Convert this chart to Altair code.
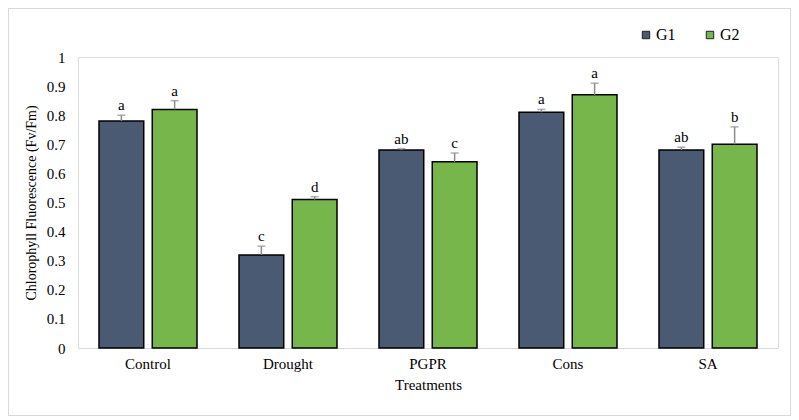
import altair as alt
import pandas as pd

treatments = ["Control", "Drought", "PGPR", "Cons", "SA"]
groups = ["G1", "G2"]
g1_values = [0.78, 0.32, 0.68, 0.81, 0.68]
g2_values = [0.82, 0.51, 0.64, 0.87, 0.70]
g1_err = [0.02, 0.03, 0.005, 0.01, 0.01]
g2_err = [0.03, 0.01, 0.03, 0.04, 0.06]
g1_letters = ["a", "c", "ab", "a", "ab"]
g2_letters = ["a", "d", "c", "a", "b"]
y_ticks = [0, 0.1, 0.2, 0.3, 0.4, 0.5, 0.6, 0.7, 0.8, 0.9, 1]

rows = []
for i, t in enumerate(treatments):
    rows.append({"Treatment": t, "Group": "G1", "value": g1_values[i],
                 "top": g1_values[i] + g1_err[i], "letter": g1_letters[i]})
    rows.append({"Treatment": t, "Group": "G2", "value": g2_values[i],
                 "top": g2_values[i] + g2_err[i], "letter": g2_letters[i]})
df = pd.DataFrame(rows)

W, H = 700, 291
FONT = "Liberation Serif"
YTITLE = "Chlorophyll  Fluorescence (Fv/Fm)"

font_props = dict(labelFont=FONT, titleFont=FONT, labelFontSize=15,
                  titleFontSize=15, labelColor="#000", titleColor="#000",
                  titleFontWeight="normal")

x_axis = alt.Axis(labelAngle=0, ticks=False, domainColor="#d9d9d9",
                  labelPadding=8, titlePadding=6, **font_props)
x = alt.X("Treatment:N", sort=treatments, title="Treatments",
          scale=alt.Scale(paddingInner=0.3, paddingOuter=0.15), axis=x_axis)
xo = alt.XOffset("Group:N", sort=groups,
                 scale=alt.Scale(paddingInner=0.16, paddingOuter=0))
y_props = dict(font_props)
y_props["titleFontSize"] = 14
y_axis = alt.Axis(values=y_ticks, grid=False, domain=False, ticks=False,
                  labelPadding=13, labelOverlap=False,
                  labelExpr="datum.value == 0 ? '0' : datum.value == 1 ? '1' : format(datum.value, '.1f')",
                  titlePadding=8, **y_props)
yscale = alt.Scale(domain=[0, 1], nice=False)

def Y(field):
    return alt.Y(field, title=YTITLE, scale=yscale, axis=y_axis)

color = alt.Color("Group:N", sort=groups,
                  scale=alt.Scale(domain=groups, range=["#4a5a72", "#77b64b"]),
                  legend=alt.Legend(title=None, orient="none", legendX=560,
                                    legendY=-30, direction="horizontal",
                                    symbolType="square", symbolSize=55,
                                    symbolStrokeColor="#222", symbolStrokeWidth=1,
                                    columnPadding=26, labelOffset=2,
                                    labelFont=FONT, labelFontSize=16,
                                    labelColor="#000"))

bars = alt.Chart(df).mark_bar(stroke="#000", strokeWidth=1.5).encode(
    x=x, xOffset=xo, y=Y("value:Q"), color=color)

rules = alt.Chart(df).mark_rule(color="#8c8c8c", strokeWidth=1.5).encode(
    x=x, xOffset=xo, y=Y("value:Q"), y2="top:Q")

caps = alt.Chart(df).mark_tick(color="#8c8c8c", size=8, thickness=1.5).encode(
    x=x, xOffset=xo, y=Y("top:Q"))

labels = alt.Chart(df).mark_text(font=FONT, fontSize=15, color="#000",
                                 baseline="alphabetic", dy=-5).encode(
    x=x, xOffset=xo, y=Y("top:Q"), text="letter:N")

L, R, T, B = -69.5, 712.5, -48.5, 358.5
bc = "#d9d9d9"
border_top = alt.Chart(df).mark_rule(color=bc, strokeWidth=1).encode(
    x=alt.value(L), x2=alt.value(R), y=alt.value(T))
border_bottom = alt.Chart(df).mark_rule(color=bc, strokeWidth=1).encode(
    x=alt.value(L), x2=alt.value(R), y=alt.value(B))
border_left = alt.Chart(df).mark_rule(color=bc, strokeWidth=1).encode(
    x=alt.value(L), y=alt.value(T), y2=alt.value(B))
border_right = alt.Chart(df).mark_rule(color=bc, strokeWidth=1).encode(
    x=alt.value(R), y=alt.value(T), y2=alt.value(B))

chart = alt.layer(bars, rules, caps, labels, border_top, border_bottom,
                  border_left, border_right).properties(
    width=W, height=H,
    autosize=alt.AutoSizeParams(type="none"),
    padding={"left": 70, "top": 49, "right": 13, "bottom": 68},
).configure_view(stroke=None).configure_axis(
    **font_props
).configure_legend(
    labelFont=FONT, labelFontSize=16, labelColor="#000",
).configure(font=FONT)

chart.save("out.html", embed_options={"renderer": "svg", "actions": False})
